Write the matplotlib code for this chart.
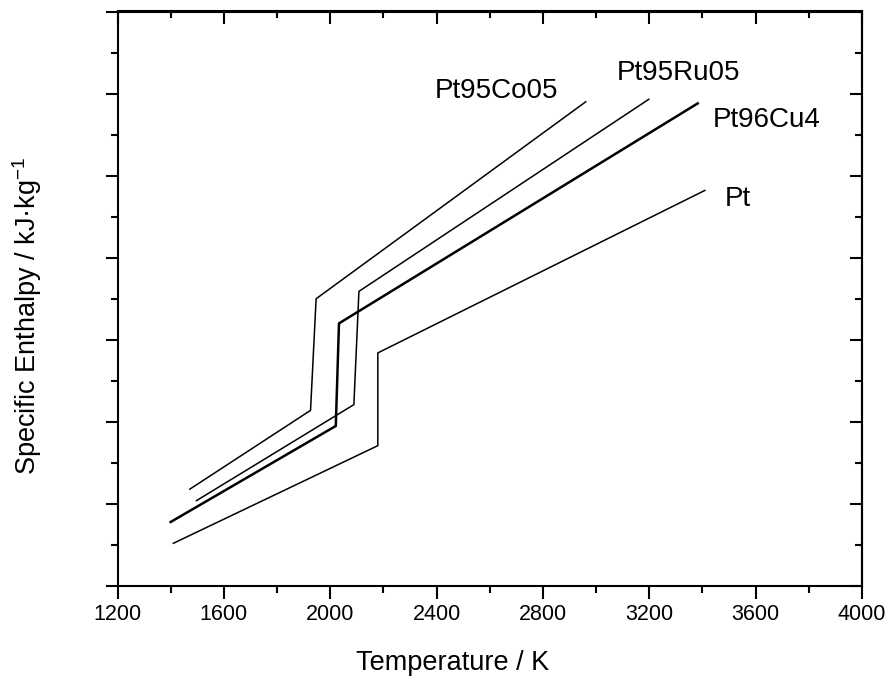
import matplotlib
matplotlib.use("Agg")
import matplotlib.pyplot as plt
from matplotlib.ticker import MultipleLocator, NullFormatter

plt.rcParams['font.family'] = ['Liberation Sans', 'DejaVu Sans']
plt.rcParams['mathtext.fontset'] = 'custom'
plt.rcParams['mathtext.rm'] = 'Liberation Sans'

# Data (temperature in K, specific enthalpy in kJ/kg)
pt_T = [1410, 2179, 2179, 3409]
pt_H = [152, 271, 384, 582]

cu_T = [1400, 2021, 2033, 3382]
cu_H = [178, 295, 420, 688]

ru_T = [1497, 2089, 2108, 3198]
ru_H = [204, 321, 459, 693]

co_T = [1472, 1926, 1947, 2961]
co_H = [218, 314, 450, 690]

labels = ["Pt95Co05", "Pt95Ru05", "Pt96Cu4", "Pt"]
xticks = [1200, 1600, 2000, 2400, 2800, 3200, 3600, 4000]

W, H = 891, 690
fig = plt.figure(figsize=(W/100, H/100), dpi=100)
ax = fig.add_axes([117.5/W, 1-586/H, (862-117.5)/W, (586-11.5)/H])

ax.plot(pt_T, pt_H, color='black', lw=1.1)
ax.plot(cu_T, cu_H, color='black', lw=1.8)
ax.plot(ru_T, ru_H, color='black', lw=1.1)
ax.plot(co_T, co_H, color='black', lw=1.1)

ax.set_xlim(1200, 4000)
ax.set_ylim(100, 800)
ax.set_xticks(xticks)
ax.set_xticklabels([str(t) for t in xticks])
ax.xaxis.set_minor_locator(MultipleLocator(200))
ax.yaxis.set_major_locator(MultipleLocator(100))
ax.yaxis.set_minor_locator(MultipleLocator(50))
ax.yaxis.set_major_formatter(NullFormatter())

for s in ax.spines.values():
    s.set_linewidth(1.5)

ax.tick_params(axis='both', which='major', length=9, width=1.5, labelsize=15.5, direction='out', pad=4)
ax.tick_params(axis='both', which='minor', length=5, width=1.5, direction='out')
# mirrored ticks on top/right pointing inward
axt = ax.secondary_xaxis('top')
axt.set_xticks(xticks)
axt.xaxis.set_minor_locator(MultipleLocator(200))
axt.set_xticklabels([])
axt.tick_params(which='major', direction='in', length=9, width=1.5)
axt.tick_params(which='minor', direction='in', length=5, width=1.5)
axr = ax.secondary_yaxis('right')
axr.yaxis.set_major_locator(MultipleLocator(100))
axr.yaxis.set_minor_locator(MultipleLocator(50))
axr.yaxis.set_major_formatter(NullFormatter())
axr.tick_params(which='major', direction='in', length=9, width=1.5)
axr.tick_params(which='minor', direction='in', length=5, width=1.5)
for sa in (axt, axr):
    for s in sa.spines.values():
        s.set_linewidth(1.5)

fig.text(453/W, 1-663/H, "Temperature / K", ha='center', va='center', fontsize=19.5)
fig.text(27.5/W, 1-316/H, "Specific Enthalpy / kJ·kg$^{\\mathregular{-1}}$", rotation=90,
         ha='center', va='center', fontsize=19.5)

pos = [(435, 98), (617, 80), (713, 127), (725, 206)]
for lab, (px, py) in zip(labels, pos):
    fig.text(px/W, 1-py/H, lab, ha='left', va='baseline', fontsize=20)

fig.savefig("out.png", dpi=100)
